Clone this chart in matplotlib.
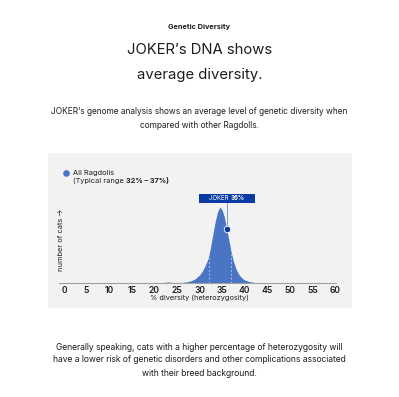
"""JOKER's genetic diversity compared with all Ragdolls"""

import numpy as np
import matplotlib.pyplot as plt
from matplotlib.patches import FancyBboxPatch, Rectangle

plt.rcParams['font.family'] = ['Inter', 'DejaVu Sans']

# Data ----------------------------------------------------------
diversity = [20, 21, 22, 22.5, 23, 23.5, 24, 25, 26, 27, 28, 29, 29.5, 30,
             30.5, 31, 31.5, 32, 32.5, 33, 33.5, 34, 34.5, 35, 35.5, 36,
             36.5, 37, 37.5, 38, 38.5, 39, 39.5, 40, 41, 42, 43, 44]
n_cats = [0, 0.2, 0.5, 0.8, 1.0, 0.8, 0.5, 0.3, 0.4, 1, 2, 4, 6, 8,
          11, 15, 20, 26, 37, 50, 62, 71, 76, 73, 66, 54,
          43, 31, 22, 15, 10, 7, 4.5, 3, 1.5, 0.6, 0.2, 0]
typical_range = (32, 37)
joker_value = 36
x_ticks = list(range(0, 61, 5))

blue = '#4a74c4'
dark_blue = '#0a3aa6'
text_col = '#1e1e1e'

fig = plt.figure(figsize=(3.99, 3.97), dpi=100)
fig.patch.set_facecolor('white')

# Header texts
fig.text(0.5, 1 - 27/397, 'Genetic Diversity', ha='center', va='center',
         fontsize=5.3, fontweight='bold', color=text_col)
fig.text(0.5, 1 - 50/397, 'JOKER’s DNA shows', ha='center', va='center',
         fontsize=10.7, color=text_col)
fig.text(0.5, 1 - 75/397, 'average diversity.', ha='center', va='center',
         fontsize=10.7, color=text_col)
fig.text(0.5, 1 - 112/397,
         'JOKER’s genome analysis shows an average level of genetic diversity when',
         ha='center', va='center', fontsize=6.0, color=text_col)
fig.text(0.5, 1 - 126/397, 'compared with other Ragdolls.',
         ha='center', va='center', fontsize=6.0, color=text_col)

footer = ['Generally speaking, cats with a higher percentage of heterozygosity will',
          'have a lower risk of genetic disorders and other complications associated',
          'with their breed background.']
for i, line in enumerate(footer):
    fig.text(0.5, 1 - (347 + 13*i)/397, line, ha='center', va='center',
             fontsize=6.15, color=text_col)

# Grey panel behind the chart
panel = FancyBboxPatch((48/399, 1 - 308/397), 304/399, 155/397,
                       boxstyle='round,pad=0,rounding_size=0.008',
                       transform=fig.transFigure, facecolor='#f2f2f2',
                       edgecolor='none', zorder=-5)
fig.patches.append(panel)

# Chart ----------------------------------------------------------
ax = fig.add_axes([64/399, 114/397, 271/399, 100/397])
ax.set_facecolor('none')
ax.set_xlim(0, 60)
ax.set_ylim(0, 100)

x = np.array(diversity)
y = np.array(n_cats)
ax.fill_between(x, 0, y, color=blue, lw=0, zorder=2)
for r in typical_range:
    ax.plot([r, r], [0, np.interp(r, x, y)], ls=(0, (2, 2)), lw=0.7,
            color='#a9bde6', zorder=3)

# JOKER marker and label
jy = np.interp(joker_value, x, y)
ax.plot([joker_value, joker_value], [jy, 80], color='#7f9ad6', lw=0.7, zorder=3)
ax.scatter([joker_value], [jy], s=22, color=dark_blue, edgecolor='white',
           linewidth=0.6, zorder=5)
ax.add_patch(Rectangle((joker_value - 6.2, 80), 12.4, 9, facecolor=dark_blue,
                       edgecolor='none', zorder=4, clip_on=False))
t = ax.text(joker_value + 0.9, 84.5, 'JOKER ', ha='right', va='center',
            fontsize=4.4, color='white', zorder=6)
ax.annotate('36%', xy=(1, 0.5), xycoords=t, va='center', ha='left',
            fontsize=4.4, fontweight='bold', color='white', zorder=6)

# Legend
ax.scatter([0.5], [110], s=14, color=blue, clip_on=False, zorder=5)
ax.text(2.0, 110, 'All Ragdolls', ha='left', va='center', fontsize=5.3,
        color=text_col)
t2 = ax.text(2.0, 102, '(Typical range ', ha='left', va='center',
             fontsize=5.3, color=text_col)
ax.annotate('32% – 37%)', xy=(1, 0.5), xycoords=t2, ha='left', va='center',
            fontsize=5.3, fontweight='bold', color=text_col)

# Axes styling
for s in ['top', 'right', 'left']:
    ax.spines[s].set_visible(False)
ax.spines['bottom'].set_color('#a0a0a0')
ax.spines['bottom'].set_linewidth(0.8)
ax.spines['bottom'].set_bounds(-1, 60.3)
ax.set_yticks([])
ax.set_xticks(x_ticks)
ax.set_xticklabels([str(v) for v in x_ticks], fontsize=6.2,
                   fontweight='semibold', color=text_col)
ax.tick_params(axis='x', length=0, pad=2.5)
ax.set_xlabel('% diversity (heterozygosity)', fontsize=5.3, color=text_col,
              labelpad=-0.5)
ax.set_ylabel('number of cats →', fontsize=5.3, color=text_col, labelpad=0)
ax.yaxis.set_label_coords(0.0, 0.43)

fig.savefig('out.png', dpi=100)
